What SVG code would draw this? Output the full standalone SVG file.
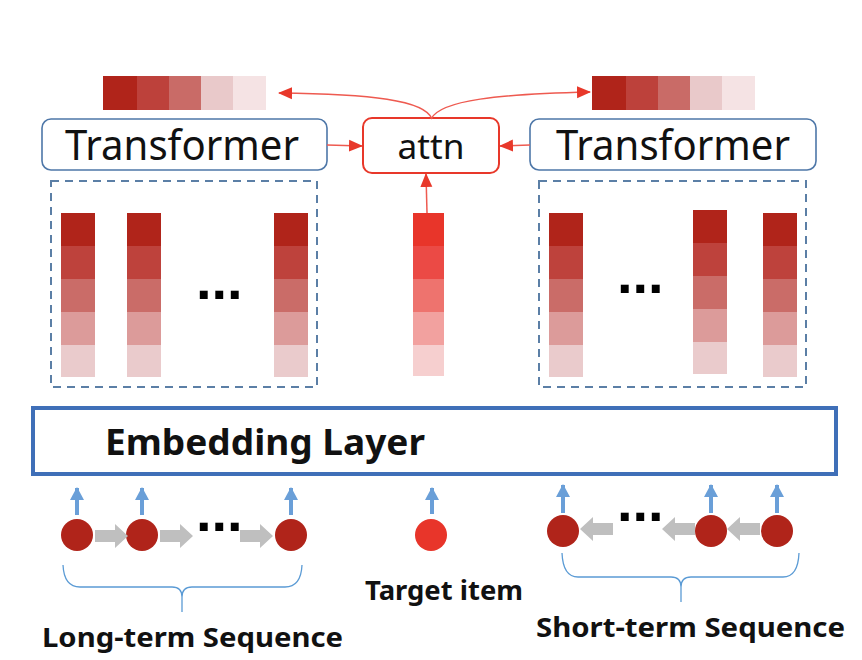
<svg xmlns="http://www.w3.org/2000/svg" xmlns:xlink="http://www.w3.org/1999/xlink" width="862" height="660" viewBox="0 0 862 660">
<style>
.tbox{fill:#fff;stroke:#4E77A8;stroke-width:1.6}
.abox{fill:#fff;stroke:#E8382A;stroke-width:2}
.dash{fill:none;stroke:#5B7FA6;stroke-width:2;stroke-dasharray:8 6}
.big{font-family:"Noto Sans","Liberation Sans",sans-serif;fill:#111}
.bold{font-family:"Noto Sans","Liberation Sans",sans-serif;font-weight:bold;fill:#111}
.red{fill:none;stroke:#EE5A50;stroke-width:1.5}
.blue{fill:none;stroke:#6A9FD8;stroke-width:4}
.brace{fill:none;stroke:#5B9BD5;stroke-width:1.3}
.c1{fill:#B0241A}.c2{fill:#BE423C}.c3{fill:#CA6C68}.c4{fill:#DC9B9A}.c5{fill:#EACBCC}
.t1{fill:#E8352A}.t2{fill:#EB4A45}.t3{fill:#EE736E}.t4{fill:#F2A19F}.t5{fill:#F6CFCF}
.b4{fill:#E9C9CA}.b5{fill:#F5E3E4}
.node{fill:#B0241A}
.garrow{fill:#BFBFBF}
.dots{font-family:"Liberation Sans",sans-serif;font-size:56px;font-weight:bold;fill:#000}
</style>
<defs>
<marker id="ra" markerUnits="userSpaceOnUse" markerWidth="14" markerHeight="14" viewBox="0 0 14 14" refX="13" refY="7" orient="auto">
<path d="M0,1 L14,7 L0,13 Z" fill="#E8382A"/>
</marker>
<marker id="ba" markerUnits="userSpaceOnUse" markerWidth="14" markerHeight="14" viewBox="0 0 14 14" refX="12" refY="7" orient="auto">
<path d="M0,0 L13,7 L0,14 Z" fill="#6A9FD8"/>
</marker>
<path id="ga" d="M0,-6 H20 V-12 L33,0 L20,12 V6 H0 Z"/>
<g id="col">
<rect x="0" y="0" width="34" height="33" class="c1"/>
<rect x="0" y="33" width="34" height="33" class="c2"/>
<rect x="0" y="66" width="34" height="33" class="c3"/>
<rect x="0" y="99" width="34" height="33" class="c4"/>
<rect x="0" y="132" width="34" height="32" class="c5"/>
</g>
<g id="bar">
<rect x="0" y="0" width="34" height="34" class="c1"/>
<rect x="34" y="0" width="32" height="34" fill="#BD413B"/>
<rect x="66" y="0" width="32" height="34" fill="#C96B67"/>
<rect x="98" y="0" width="32" height="34" class="b4"/>
<rect x="130" y="0" width="33" height="34" class="b5"/>
</g>
</defs>

<g id="out-left"><use xlink:href="#bar" x="103" y="76"/></g>
<g id="out-right"><use xlink:href="#bar" x="592" y="76"/></g>

<g id="transformer-left">
<rect x="42" y="119" width="285" height="51" rx="9" class="tbox"/>
<text x="182" y="160" text-anchor="middle" class="big" font-size="42" textLength="234" lengthAdjust="spacingAndGlyphs">Transformer</text>
</g>
<g id="attn">
<rect x="363" y="118" width="136" height="55" rx="9" class="abox"/>
<text x="431" y="159" text-anchor="middle" class="big" font-size="34" textLength="67" lengthAdjust="spacingAndGlyphs">attn</text>
</g>
<g id="transformer-right">
<rect x="530" y="119" width="286" height="51" rx="9" class="tbox"/>
<text x="673" y="160" text-anchor="middle" class="big" font-size="42" textLength="234" lengthAdjust="spacingAndGlyphs">Transformer</text>
</g>

<g id="long-seq-emb">
<rect x="51" y="181" width="266" height="206" class="dash"/>
<use xlink:href="#col" x="61" y="213"/>
<use xlink:href="#col" x="127" y="213"/>
<use xlink:href="#col" x="274" y="213"/>
<text x="196" y="299" class="dots">...</text>
</g>
<g id="target-emb">
<rect x="413" y="213" width="31" height="33" class="t1"/>
<rect x="413" y="246" width="31" height="33" class="t2"/>
<rect x="413" y="279" width="31" height="33" class="t3"/>
<rect x="413" y="312" width="31" height="33" class="t4"/>
<rect x="413" y="345" width="31" height="31" class="t5"/>
</g>
<g id="short-seq-emb">
<rect x="539" y="181" width="267" height="206" class="dash"/>
<use xlink:href="#col" x="549" y="213"/>
<use xlink:href="#col" x="693" y="210" transform="translate(0,0)"/>
<use xlink:href="#col" x="763" y="213"/>
<text x="617" y="293" class="dots">...</text>
</g>

<g id="embedding-layer">
<rect x="33" y="408" width="803" height="66" fill="#fff" stroke="#3F6FB8" stroke-width="4"/>
<text x="105" y="455" class="bold" font-size="36" textLength="320" lengthAdjust="spacingAndGlyphs">Embedding Layer</text>
</g>

<g id="long-seq">
<circle cx="77" cy="535" r="16" class="node"/>
<circle cx="142" cy="535" r="16" class="node"/>
<circle cx="291" cy="535" r="16" class="node"/>
<use xlink:href="#ga" x="95" y="536" class="garrow"/>
<use xlink:href="#ga" x="160" y="536" class="garrow"/>
<use xlink:href="#ga" x="240" y="536" class="garrow"/>
<text x="196" y="531" class="dots">...</text>
<path class="brace" d="M63,565 Q64,587 80,587 L172,587 Q182,587 182,597 L182,612 M182,597 Q182,587 192,587 L285,587 Q301,587 302,565"/>
<text x="42" y="647" class="bold" font-size="26" textLength="301" lengthAdjust="spacingAndGlyphs">Long-term Sequence</text>
</g>
<g id="target-item">
<circle cx="431" cy="535" r="16" fill="#E8352A"/>
<text x="444" y="600" text-anchor="middle" class="bold" font-size="26" textLength="158" lengthAdjust="spacingAndGlyphs">Target item</text>
</g>
<g id="short-seq">
<circle cx="563" cy="531" r="16" class="node"/>
<circle cx="711" cy="531" r="16" class="node"/>
<circle cx="777" cy="531" r="16" class="node"/>
<use xlink:href="#ga" transform="translate(613,529) scale(-1,1)" class="garrow"/>
<use xlink:href="#ga" transform="translate(695,529) scale(-1,1)" class="garrow"/>
<use xlink:href="#ga" transform="translate(760,529) scale(-1,1)" class="garrow"/>
<text x="617" y="521" class="dots">...</text>
<path class="brace" d="M562,553 Q563,577 578,577 L671,577 Q681,577 681,587 L681,602 M681,587 Q681,577 691,577 L783,577 Q798,577 799,553"/>
<text x="536" y="637" class="bold" font-size="26" textLength="309" lengthAdjust="spacingAndGlyphs">Short-term Sequence</text>
</g>

<g id="connectors">
<line x1="327" y1="145" x2="362" y2="146" class="red" marker-end="url(#ra)"/>
<line x1="530" y1="145" x2="500" y2="146" class="red" marker-end="url(#ra)"/>
<line x1="427" y1="213" x2="426" y2="174" class="red" marker-end="url(#ra)"/>
<path d="M432,119 C425,100 370,94 279,93" class="red" marker-end="url(#ra)"/>
<path d="M431,119 C440,100 500,94 590,92" class="red" marker-end="url(#ra)"/>
<line x1="77" y1="515" x2="77" y2="488" class="blue" marker-end="url(#ba)"/>
<line x1="142" y1="515" x2="142" y2="488" class="blue" marker-end="url(#ba)"/>
<line x1="291" y1="515" x2="291" y2="488" class="blue" marker-end="url(#ba)"/>
<line x1="432" y1="514" x2="432" y2="488" class="blue" marker-end="url(#ba)"/>
<line x1="563" y1="513" x2="563" y2="485" class="blue" marker-end="url(#ba)"/>
<line x1="711" y1="513" x2="711" y2="485" class="blue" marker-end="url(#ba)"/>
<line x1="777" y1="513" x2="777" y2="485" class="blue" marker-end="url(#ba)"/>
</g>
</svg>
